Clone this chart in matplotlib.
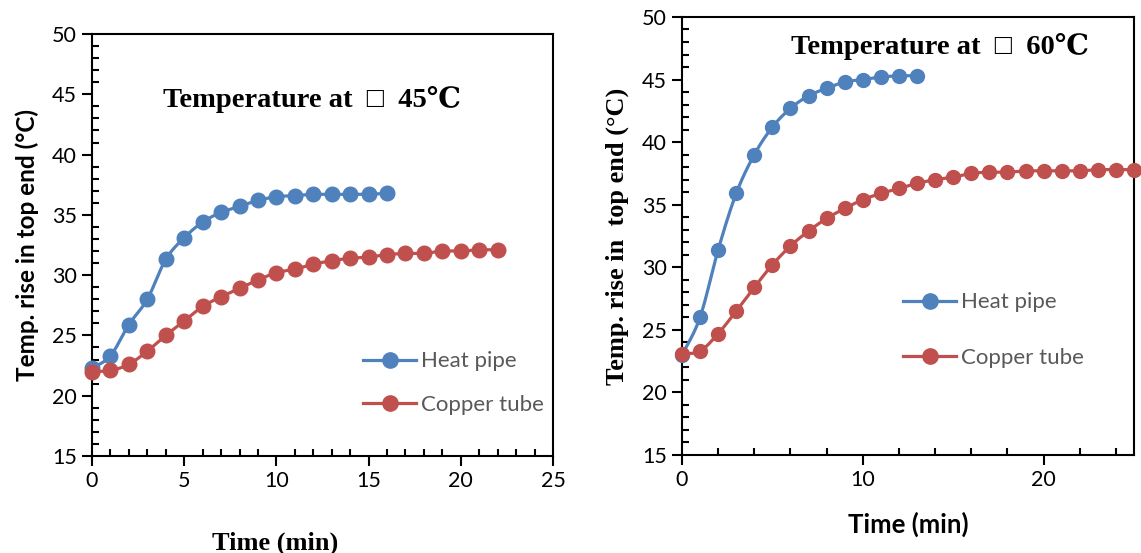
import numpy as np
import matplotlib
matplotlib.use('Agg')
import matplotlib.pyplot as plt
from matplotlib.ticker import MultipleLocator
from matplotlib.lines import Line2D

# 45 C case
t_hp_45 = list(range(0, 17))
hp_45 = [22.3, 23.3, 25.9, 28.0, 31.3, 33.1, 34.4, 35.2, 35.7, 36.2, 36.5, 36.6, 36.7, 36.7, 36.7, 36.7, 36.8]
t_cu_45 = list(range(0, 23))
cu_45 = [22.0, 22.1, 22.6, 23.7, 25.0, 26.2, 27.4, 28.2, 28.9, 29.6, 30.2, 30.5, 30.9, 31.2, 31.4, 31.5,
         31.7, 31.8, 31.8, 32.0, 32.0, 32.1, 32.1]

# 60 C case
t_hp_60 = list(range(0, 14))
hp_60 = [23.0, 26.0, 31.4, 35.9, 39.0, 41.2, 42.7, 43.7, 44.3, 44.8, 45.0, 45.2, 45.3, 45.3]
t_cu_60 = list(range(0, 26))
cu_60 = [23.1, 23.3, 24.7, 26.5, 28.4, 30.2, 31.7, 32.9, 33.9, 34.7, 35.4, 35.9, 36.3, 36.7, 37.0, 37.2,
         37.5, 37.6, 37.6, 37.7, 37.7, 37.7, 37.7, 37.8, 37.8, 37.8]

BLUE = '#4F81BD'
RED = '#C0504D'
SANS = ['Lato', 'DejaVu Sans']
SERIF = ['Liberation Serif', 'DejaVu Serif']


def smooth(x, y, n=12):
    # catmull-rom style curve through the points, like excel's smoothed line
    x = np.asarray(x, float)
    y = np.asarray(y, float)
    px = np.concatenate([[x[0]], x, [x[-1]]])
    py = np.concatenate([[y[0]], y, [y[-1]]])
    xs, ys = [], []
    s = np.linspace(0, 1, n, endpoint=False)
    for i in range(1, len(px) - 2):
        for arr, out in ((px, xs), (py, ys)):
            p0, p1, p2, p3 = arr[i - 1], arr[i], arr[i + 1], arr[i + 2]
            out.extend(0.5 * (2 * p1 + (-p0 + p2) * s + (2 * p0 - 5 * p1 + 4 * p2 - p3) * s ** 2
                              + (-p0 + 3 * p1 - 3 * p2 + p3) * s ** 3))
    xs.append(x[-1])
    ys.append(y[-1])
    return xs, ys


def draw_series(ax, t, v, color, ms):
    sx, sy = smooth(t, v)
    ax.plot(sx, sy, color=color, lw=2.3, zorder=2, clip_on=False)
    ax.plot(t, v, 'o', color=color, ms=ms, zorder=3, clip_on=False)


def style_axes(ax, xmajor, xminor):
    ax.set_ylim(15, 50)
    ax.set_xlim(0, 25)
    ax.xaxis.set_major_locator(MultipleLocator(xmajor))
    ax.xaxis.set_minor_locator(MultipleLocator(xminor))
    ax.yaxis.set_major_locator(MultipleLocator(5))
    ax.yaxis.set_minor_locator(MultipleLocator(1))
    ax.tick_params(which='major', direction='out', length=7, width=1.5, labelsize=15.5, pad=4)
    ax.tick_params(which='minor', direction='in', length=5, width=1.5)
    for sp in ax.spines.values():
        sp.set_linewidth(1.5)
    for lab in ax.get_xticklabels() + ax.get_yticklabels():
        lab.set_family(SANS)


def add_legend(ax, x, y, spacing):
    handles = [Line2D([], [], color=BLUE, lw=2.3, marker='o', ms=11),
               Line2D([], [], color=RED, lw=2.3, marker='o', ms=11)]
    ax.legend(handles, ['Heat pipe', 'Copper tube'], loc='center left', bbox_to_anchor=(x, y),
              frameon=False, borderpad=0, borderaxespad=0, handlelength=2.4, handletextpad=0.2,
              labelspacing=spacing, labelcolor='#595959', prop={'family': SANS, 'size': 16})


fig = plt.figure(figsize=(11.41, 5.53), dpi=100)

ax1 = fig.add_axes([0.0806, 0.1754, 0.4041, 0.7631])
style_axes(ax1, 5, 1)
draw_series(ax1, t_hp_45, hp_45, BLUE, 10.5)
draw_series(ax1, t_cu_45, cu_45, RED, 10.5)
add_legend(ax1, 0.588, 0.173, 1.05)
ax1.text(0.477, 0.845, 'Temperature at  \u25a1  45\u2103', transform=ax1.transAxes, ha='center', va='center',
         fontsize=20.5, fontweight='bold', family=SERIF)
ax1.set_ylabel('Temp. rise in top end (\u00b0C)', fontsize=17.5, fontweight='bold', family=SANS, labelpad=9)
fig.text(0.241, 0.018, 'Time (min)', ha='center', va='center', fontsize=19, fontweight='bold', family=SERIF)

ax2 = fig.add_axes([0.5977, 0.1772, 0.3962, 0.7921])
style_axes(ax2, 10, 2)
draw_series(ax2, t_hp_60, hp_60, BLUE, 10)
draw_series(ax2, t_cu_60, cu_60, RED, 10)
add_legend(ax2, 0.489, 0.285, 1.6)
ax2.text(0.57, 0.932, 'Temperature at  \u25a1  60\u2103', transform=ax2.transAxes, ha='center', va='center',
         fontsize=20.5, fontweight='bold', family=SERIF)
ax2.set_ylabel('Temp. rise in  top end (\u00b0C)', fontsize=19, fontweight='bold', family=SERIF, labelpad=9)
fig.text(0.796, 0.052, 'Time (min)', ha='center', va='center', fontsize=18.5, fontweight='bold', family=SANS)

fig.savefig('out.png', dpi=100)
